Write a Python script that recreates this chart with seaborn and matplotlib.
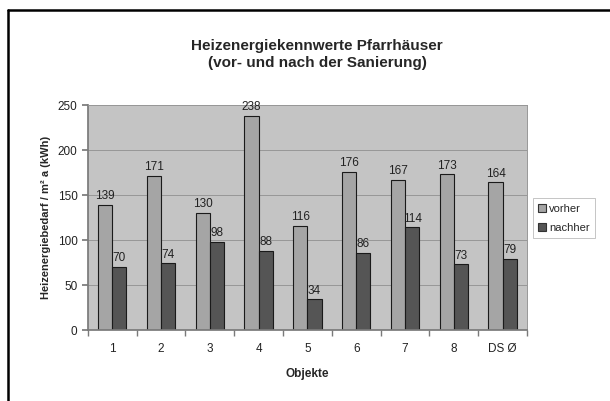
import matplotlib
matplotlib.use("Agg")
import matplotlib.pyplot as plt
import matplotlib.patches as mpatches
import pandas as pd
import seaborn as sns

objekte = ["1", "2", "3", "4", "5", "6", "7", "8", "DS Ø"]
vorher = [139, 171, 130, 238, 116, 176, 167, 173, 164]
nachher = [70, 74, 98, 88, 34, 86, 114, 73, 79]
series = ["vorher", "nachher"]
colors = {"vorher": "#a5a5a5", "nachher": "#555555"}

df = pd.DataFrame({
    "Objekte": objekte * 2,
    "Wert": vorher + nachher,
    "Serie": ["vorher"] * len(objekte) + ["nachher"] * len(objekte),
})

sns.set_theme(style="white")
plt.rcParams["font.family"] = ["Liberation Sans", "DejaVu Sans"]

fig = plt.figure(figsize=(6.10, 4.01), dpi=100)
ax = fig.add_axes([0.144, 0.177, 0.720, 0.561])

sns.barplot(data=df, x="Objekte", y="Wert", hue="Serie", order=objekte,
            hue_order=series, palette=colors, width=0.58, edgecolor="#1a1a1a",
            linewidth=0.8, saturation=1, ax=ax, legend=False)

ax.set_facecolor("#c4c4c4")
ax.set_ylim(0, 250)
ax.set_xlim(-0.5, len(objekte) - 0.5)
ax.set_yticks(range(0, 251, 50))
ax.yaxis.grid(True, color="#979797", linewidth=0.7)
ax.set_axisbelow(True)
for side in ["top", "right"]:
    ax.spines[side].set_visible(True)
    ax.spines[side].set_color("#979797")
    ax.spines[side].set_linewidth(0.7)
ax.spines["left"].set_color("#7a7a7a")
ax.spines["bottom"].set_color("#7a7a7a")

# category separator ticks on x axis
ax.set_xticks([i + 0.5 for i in range(-1, len(objekte))], minor=True)
ax.tick_params(axis="x", which="minor", length=4, color="#7a7a7a", bottom=True)
ax.tick_params(axis="x", which="major", length=0, pad=9, labelsize=8.5, labelcolor="#222222")
ax.tick_params(axis="y", which="major", length=4, color="#7a7a7a", left=True,
               labelsize=8.5, labelcolor="#222222")

for cont in ax.containers:
    ax.bar_label(cont, fmt="%d", padding=2, fontsize=8.5, color="#222222")

ax.set_xlabel("Objekte", fontsize=8.5, fontweight="bold", labelpad=10)
ax.set_ylabel("Heizenergiebedarf / m² a (kWh)", fontsize=8, fontweight="bold", labelpad=5)

fig.text(0.52, 0.865, "Heizenergiekennwerte Pfarrhäuser\n(vor- und nach der Sanierung)",
         ha="center", va="center", fontsize=11, fontweight="bold", linespacing=1.25)

handles = [mpatches.Patch(facecolor=colors[s], edgecolor="#333333", linewidth=0.8, label=s)
           for s in series]
leg = fig.legend(handles=handles, loc="center left", bbox_to_anchor=(0.873, 0.456),
                 fontsize=8, frameon=True, fancybox=False, handlelength=0.7,
                 handleheight=0.7, handletextpad=0.3, borderpad=0.5, labelspacing=0.8,
                 borderaxespad=0)
leg.get_frame().set_edgecolor("#aaaaaa")
leg.get_frame().set_linewidth(0.6)

# outer chart border (top and left visible)
fig.add_artist(plt.Line2D([8 / 610, 1.0], [1 - 10 / 401, 1 - 10 / 401],
                          transform=fig.transFigure, color="black", linewidth=1.8))
fig.add_artist(plt.Line2D([8 / 610, 8 / 610], [0.0, 1 - 10 / 401],
                          transform=fig.transFigure, color="black", linewidth=1.8))

fig.savefig("out.png", dpi=100)
